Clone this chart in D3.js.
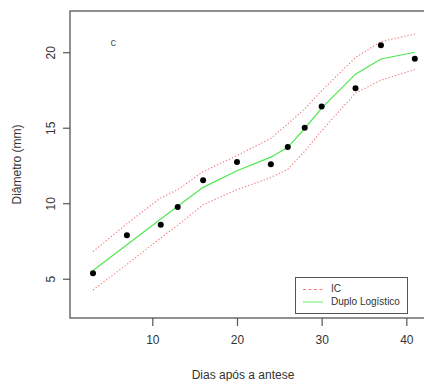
<!DOCTYPE html>
<html>
<head>
<meta charset="utf-8">
<script src="https://cdn.jsdelivr.net/npm/d3@7"></script>
<style>
  html, body { margin: 0; padding: 0; background: #fff; }
  svg { display: block; font-family: "Liberation Sans", Arial, sans-serif; }
</style>
</head>
<body>
<svg id="chart" width="424" height="381"></svg>
<script>
// Days after anthesis and observed fruit diameter (mm)
const dias = [3, 7, 11, 13, 16, 20, 24, 26, 28, 30, 34, 37, 41];
const diametro = [5.36, 7.88, 8.58, 9.75, 11.52, 12.73, 12.58, 13.73, 15.0, 16.4, 17.61, 20.46, 19.56];
// Double logistic fit and its confidence band
const ajuste = [5.55, 7.25, 8.95, 9.8, 11.05, 12.15, 13.05, 13.7, 14.95, 16.3, 18.55, 19.55, 20.0];
const icSup = [6.8, 8.65, 10.35, 10.9, 12.1, 13.15, 14.3, 15.25, 16.25, 17.45, 19.65, 20.7, 21.2];
const icInf = [4.25, 5.95, 7.7, 8.55, 9.9, 10.9, 11.7, 12.25, 13.45, 14.8, 17.3, 18.15, 18.85];
const xTicks = [10, 20, 30, 40];
const yTicks = [5, 10, 15, 20];
const legendLabels = ["IC", "Duplo Logístico"];

const svg = d3.select("#chart");
const plot = { left: 70, right: 428, top: 11, bottom: 318 };

const x = d3.scaleLinear().domain([0.28, 42.56]).range([plot.left, plot.right]);
const y = d3.scaleLinear().domain([2.4, 22.73]).range([plot.bottom, plot.top]);

const axisColor = "#555";
const textColor = "#333";
const redCol = "#f57a7a";
const greenCol = "#4fe84f";

// Plot box
svg.append("rect")
  .attr("x", plot.left).attr("y", plot.top)
  .attr("width", plot.right - plot.left).attr("height", plot.bottom - plot.top)
  .attr("fill", "none").attr("stroke", axisColor).attr("stroke-width", 1.3);

// Axes
const xAxis = svg.append("g")
  .attr("transform", `translate(0,${plot.bottom})`)
  .call(d3.axisBottom(x).tickValues(xTicks).tickSize(8).tickPadding(9).tickFormat(d3.format("d")));
const yAxis = svg.append("g")
  .attr("transform", `translate(${plot.left},0)`)
  .call(d3.axisLeft(y).tickValues(yTicks).tickSize(7).tickPadding(0).tickFormat(d3.format("d")));

[xAxis, yAxis].forEach(g => {
  g.select(".domain").remove();
  g.selectAll(".tick line").attr("stroke", axisColor).attr("stroke-width", 1.2);
  g.selectAll(".tick text")
    .attr("fill", textColor)
    .style("font-size", "12px")
    .style("font-family", "'Liberation Sans', Arial, sans-serif");
});

// Y tick labels are drawn rotated, parallel to the axis
yAxis.selectAll(".tick text")
  .attr("x", null).attr("dy", null)
  .attr("text-anchor", "middle")
  .attr("transform", "translate(-18,0) rotate(-90)")
  .attr("dominant-baseline", "middle");

// Axis titles
svg.append("text")
  .attr("x", 243).attr("y", 379)
  .attr("text-anchor", "middle")
  .attr("fill", textColor)
  .style("font-size", "12px")
  .text("Dias após a antese");

svg.append("text")
  .attr("transform", `translate(21,${(plot.top + plot.bottom) / 2}) rotate(-90)`)
  .attr("text-anchor", "middle")
  .attr("fill", textColor)
  .style("font-size", "12px")
  .text("Diâmetro (mm)");

// Lines
const line = vals => d3.line().x((d, i) => x(dias[i])).y(d => y(d))(vals);

[icSup, icInf].forEach(band => {
  svg.append("path")
    .attr("d", line(band))
    .attr("fill", "none")
    .attr("stroke", redCol)
    .attr("stroke-width", 1.1)
    .attr("stroke-dasharray", "1.3,2");
});

svg.append("path")
  .attr("d", line(ajuste))
  .attr("fill", "none")
  .attr("stroke", greenCol)
  .attr("stroke-width", 1.2);

// Observed points
svg.append("g")
  .selectAll("circle")
  .data(diametro)
  .join("circle")
  .attr("cx", (d, i) => x(dias[i]))
  .attr("cy", d => y(d))
  .attr("r", 3)
  .attr("fill", "#000");

// Panel letter
svg.append("text")
  .attr("x", x(5.4)).attr("y", y(20.6))
  .attr("text-anchor", "middle")
  .attr("dominant-baseline", "middle")
  .attr("fill", "#555")
  .style("font-size", "11px")
  .text("c");

// Legend
const lg = svg.append("g");
lg.append("rect")
  .attr("x", 295.5).attr("y", 277.5)
  .attr("width", 112).attr("height", 36)
  .attr("fill", "#fff").attr("stroke", axisColor).attr("stroke-width", 1);

const legendStyles = [
  { color: redCol, dash: "3,2.5" },
  { color: "#7ef07e", dash: null }
];
legendLabels.forEach((lab, i) => {
  const yy = 289.5 + i * 12.5;
  lg.append("line")
    .attr("x1", 303).attr("x2", 323)
    .attr("y1", yy).attr("y2", yy)
    .attr("stroke", legendStyles[i].color)
    .attr("stroke-width", 1.2)
    .attr("stroke-dasharray", legendStyles[i].dash);
  lg.append("text")
    .attr("x", 331).attr("y", yy)
    .attr("dominant-baseline", "middle")
    .attr("fill", textColor)
    .style("font-size", "10px")
    .text(lab);
});
</script>
</body>
</html>
